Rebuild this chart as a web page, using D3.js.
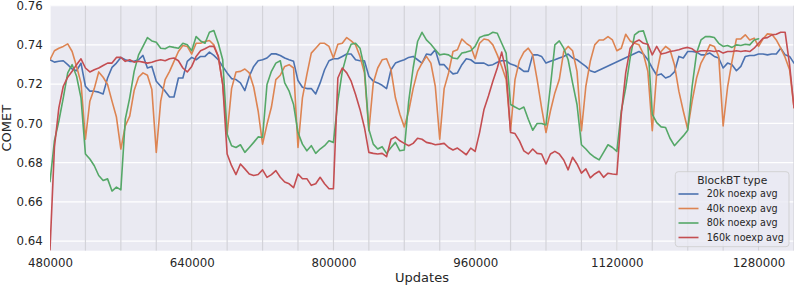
<!DOCTYPE html>
<html>
<head>
<meta charset="utf-8">
<script src="https://cdn.jsdelivr.net/npm/d3@7"></script>
<style>
  body { margin: 0; background: #fff; }
  svg text { font-family: "DejaVu Sans", sans-serif; fill: #262626; }
</style>
</head>
<body>
<div id="chart"></div>
<script>
// Checkpoints: one every 5000 updates
const updates = d3.range(480000, 1320001, 5000);

// COMET per checkpoint, rows of 8 (= 40000 updates)
const comet20k = [
  .7324,.7312,.7316,.7319,.7299,.7277,.7268,.7307,
  .7189,.7164,.7164,.7159,.7150,.7231,.7285,.7307,
  .7336,.7324,.7316,.7316,.7324,.7346,.7282,.7290,
  .7215,.7189,.7164,.7134,.7134,.7231,.7231,.7316,
  .7336,.7324,.7341,.7341,.7363,.7346,.7324,.7290,
  .7257,.7228,.7223,.7206,.7167,.7240,.7290,.7319,
  .7324,.7333,.7354,.7354,.7346,.7333,.7324,.7316,
  .7218,.7184,.7177,.7177,.7150,.7206,.7273,.7319,
  .7329,.7329,.7341,.7353,.7353,.7324,.7319,.7319,
  .7240,.7215,.7206,.7194,.7177,.7273,.7307,.7316,
  .7324,.7336,.7341,.7324,.7307,.7353,.7349,.7375,
  .7299,.7299,.7273,.7252,.7257,.7299,.7329,.7324,
  .7307,.7307,.7307,.7295,.7299,.7311,.7319,.7319,
  .7302,.7295,.7282,.7265,.7265,.7349,.7349,.7341,
  .7307,.7316,.7324,.7333,.7341,.7353,.7333,.7324,
  .7307,.7290,.7268,.7260,null,null,null,null,
  null,null,null,null,null,.7366,.7353,.7324,
  .7282,.7245,.7252,.7231,.7240,.7262,.7341,.7333,
  .7366,.7366,.7363,.7349,.7349,.7358,.7341,.7333,
  .7282,.7307,.7299,.7268,.7290,.7341,.7346,.7346,
  .7353,.7353,.7349,.7353,.7353,.7383,.7349,.7341,
  .7307
];
const comet40k = [
  .7324,.7370,.7383,.7392,.7405,.7366,.7290,.7206,
  .6919,.7113,.7177,.7262,.7235,.7198,.7113,.7032,
  .6869,.6987,.7037,.7167,.7235,.7257,.7245,.7172,
  .6852,.7113,.7223,.7265,.7316,.7366,.7397,.7392,
  .7353,.7408,.7408,.7417,.7422,.7400,.7341,.7198,
  .6945,.7177,.7262,.7265,.7277,.7257,.7184,.7063,
  .6894,.6995,.7083,.7223,.7245,.7290,.7299,.7282,
  .6877,.7130,.7248,.7358,.7383,.7408,.7408,.7392,
  .7333,.7403,.7408,.7437,.7420,.7400,.7341,.7257,
  .6962,.7206,.7282,.7324,.7329,.7273,.7130,.7046,
  .6982,.7063,.7177,.7265,.7307,.7341,.7307,.7189,
  .6919,.7177,.7257,.7366,.7375,.7430,.7408,.7392,
  .7329,.7408,.7430,.7425,.7400,.7349,.7290,.7223,
  .6962,.7223,.7319,.7363,.7383,.7349,.7223,.7080,
  .6953,.7063,.7155,.7223,.7366,.7392,.7370,.7265,
  .6962,.7189,.7316,.7400,.7425,.7425,.7442,.7425,
  .7370,.7383,.7454,.7420,.7408,.7400,.7353,.7265,
  .6962,.7257,.7366,.7392,.7375,.7299,.7164,.7063,
  .6970,.7113,.7231,.7307,.7349,.7400,.7392,.7341,
  .6987,.7184,.7316,.7430,.7430,.7451,.7425,.7434,
  .7392,.7430,.7456,.7454,.7425,.7383,.7336,.7273,
  .7080
];
const comet80k = [
  .6703,.6911,.7012,.7130,.7257,.7299,.7240,.7130,
  .6844,.6818,.6784,.6734,.6709,.6717,.6655,.6675,
  .6661,.7021,.7130,.7265,.7349,.7392,.7437,.7420,
  .7413,.7383,.7380,.7392,.7387,.7383,.7408,.7400,
  .7370,.7442,.7420,.7408,.7464,.7473,.7408,.7324,
  .6945,.6886,.6877,.6891,.6852,.6877,.6903,.6931,
  .6928,.7198,.7265,.7307,.7319,.7206,.7164,.7096,
  .6953,.6894,.6860,.6886,.6847,.6869,.6886,.6911,
  .6903,.7113,.7265,.7349,.7403,.7408,.7383,.7282,
  .6970,.6894,.6869,.6881,.6847,.6877,.6903,.6860,
  .6864,.7113,.7282,.7417,.7464,.7425,.7403,.7375,
  .7349,.7353,.7349,.7333,.7329,.7358,.7363,.7370,
  .7392,.7437,.7447,.7451,.7464,.7459,.7408,.7358,
  .7096,.7083,.7071,.7083,.7021,.6965,.6999,.6999,
  .6992,.7189,.7400,.7420,.7383,.7324,.7206,.7096,
  .6891,.6869,.6844,.6827,.6814,.6852,.6891,.6877,
  .6857,.7063,.7181,.7333,.7451,.7468,.7471,.7400,
  .7046,.7004,.6982,.6979,.6924,.6886,.6911,.6936,
  .6965,.7189,.7358,.7425,.7442,.7442,.7437,.7408,
  .7392,.7397,.7387,.7400,.7397,.7403,.7400,.7425,
  .7431,null,null,null,null,null,null,null,
  null
];
const comet160k = [
  .6355,.6878,.7079,.7189,.7235,.7265,.7299,.7329,
  .7282,.7262,.7273,.7282,.7295,.7307,.7307,.7336,
  .7336,.7316,.7324,.7312,.7316,.7312,.7307,.7311,
  .7319,.7324,.7319,.7329,.7333,.7319,.7282,.7262,
  .7290,.7341,.7370,.7380,.7392,.7392,.7341,.7198,
  .6844,.6784,.6739,.6793,.6768,.6742,.6734,.6739,
  .6763,.6725,.6739,.6759,.6725,.6701,.6692,.6672,
  .6742,.6718,.6718,.6684,.6692,.6725,.6692,.6667,
  .6667,.7231,.7282,.7257,.7215,.7147,.7071,.6979,
  .6852,.6847,.6844,.6847,.6830,.6919,.6931,.6911,
  .6898,.6886,.6898,.6924,.6919,.6903,.6898,.6891,
  .6894,.6898,.6877,.6864,.6874,.6857,.6840,.6874,
  .6857,.6953,.7071,.7139,.7215,.7282,.7363,.7265,
  .6953,.6948,.6911,.6860,.6844,.6869,.6847,.6844,
  .6793,.6844,.6857,.6844,.6813,.6763,.6827,.6793,
  .6746,.6768,.6722,.6742,.6756,.6725,.6746,.6742,
  .6739,.7046,.7257,.7383,.7413,.7425,.7408,.7403,
  .7349,.7392,.7353,.7358,.7366,.7370,.7375,.7383,
  .7387,.7380,.7363,.7370,.7370,.7370,.7366,.7370,
  .7358,.7366,.7366,.7370,.7366,.7370,.7366,.7383,
  .7408,.7434,.7437,.7451,.7454,.7464,.7464,.7299,
  .7080
];

const seriesNames = ['20k noexp avg', '40k noexp avg', '80k noexp avg', '160k noexp avg'];
const seriesValues = [comet20k, comet40k, comet80k, comet160k];
const seriesColors = ['#4c72b0', '#dd8452', '#55a868', '#c44e52'];

const xTicks = [480000, 640000, 800000, 960000, 1120000, 1280000];
const yTicks = [0.64, 0.66, 0.68, 0.70, 0.72, 0.74, 0.76];
// gray markers every 40k updates
const blockMarks = d3.range(520000, 1320001, 40000);

function draw() {
    const dimensions = {
        width: 794,
        height: 286,
        left: 50,
        right: 794,
        top: 5.6,
        bottom: 250.7
    };

    const xScale = d3.scaleLinear()
        .domain([480000, 1320000])
        .range([dimensions.left, dimensions.right]);

    const yScale = d3.scaleLinear()
        .domain([0.6351, 0.76])
        .range([dimensions.bottom, dimensions.top]);

    const svg = d3.select('#chart')
        .append('svg')
        .attr('width', dimensions.width)
        .attr('height', dimensions.height);

    svg.append('clipPath')
        .attr('id', 'plot-clip')
        .append('rect')
        .attr('x', dimensions.left)
        .attr('y', dimensions.top)
        .attr('width', dimensions.right - dimensions.left)
        .attr('height', dimensions.bottom - dimensions.top);

    // Seaborn darkgrid background
    svg.append('rect')
        .attr('x', dimensions.left)
        .attr('y', dimensions.top)
        .attr('width', dimensions.right - dimensions.left)
        .attr('height', dimensions.bottom - dimensions.top)
        .attr('fill', '#eaeaf2');

    const grid = svg.append('g').attr('clip-path', 'url(#plot-clip)');
    grid.selectAll('.hgrid')
        .data(yTicks)
        .join('line')
        .attr('x1', dimensions.left)
        .attr('x2', dimensions.right)
        .attr('y1', d => yScale(d))
        .attr('y2', d => yScale(d))
        .attr('stroke', '#fff')
        .attr('stroke-width', 1.2);
    grid.selectAll('.vgrid')
        .data(xTicks)
        .join('line')
        .attr('x1', d => xScale(d))
        .attr('x2', d => xScale(d))
        .attr('y1', dimensions.top)
        .attr('y2', dimensions.bottom)
        .attr('stroke', '#fff')
        .attr('stroke-width', 1.2);

    grid.selectAll('.block')
        .data(blockMarks)
        .join('line')
        .attr('x1', d => xScale(d))
        .attr('x2', d => xScale(d))
        .attr('y1', dimensions.top)
        .attr('y2', dimensions.bottom)
        .attr('stroke', '#d3d3d9')
        .attr('stroke-width', 1.2);

    // Lines
    const line = d3.line()
        .x(d => xScale(d.x))
        .y(d => yScale(d.y));

    const lines = svg.append('g').attr('clip-path', 'url(#plot-clip)');
    seriesValues.forEach((values, i) => {
        const points = updates
            .map((u, j) => ({ x: u, y: values[j] }))
            .filter(d => d.y != null); // missing checkpoints are bridged, like matplotlib
        lines.append('path')
            .datum(points)
            .attr('fill', 'none')
            .attr('stroke', seriesColors[i])
            .attr('stroke-width', 1.6)
            .attr('stroke-linejoin', 'round')
            .attr('stroke-linecap', 'round')
            .attr('d', line);
    });

    // Axes (no tick marks, as in darkgrid)
    const xAxis = d3.axisBottom(xScale)
        .tickValues(xTicks)
        .tickSize(0)
        .tickPadding(8.4)
        .tickFormat(d3.format('d'));
    const xAxisGroup = svg.append('g')
        .attr('transform', `translate(0, ${dimensions.bottom})`)
        .call(xAxis);
    xAxisGroup.select('.domain').remove();
    xAxisGroup.selectAll('text')
        .attr('fill', '#262626')
        .style('font-size', '11.8px');

    const yAxis = d3.axisLeft(yScale)
        .tickValues(yTicks)
        .tickSize(0)
        .tickPadding(7.3)
        .tickFormat(d3.format('.2f'));
    const yAxisGroup = svg.append('g')
        .attr('transform', `translate(${dimensions.left}, 0)`)
        .call(yAxis);
    yAxisGroup.select('.domain').remove();
    yAxisGroup.selectAll('text')
        .attr('fill', '#262626')
        .style('font-size', '11.8px');

    svg.append('text')
        .attr('x', (dimensions.left + dimensions.right) / 2)
        .attr('y', 282)
        .attr('text-anchor', 'middle')
        .style('font-size', '13px')
        .text('Updates');

    svg.append('text')
        .attr('transform', `translate(10.8, ${(dimensions.top + dimensions.bottom) / 2}) rotate(-90)`)
        .attr('text-anchor', 'middle')
        .style('font-size', '13px')
        .text('COMET');

    // Legend
    const legend = svg.append('g')
        .attr('transform', 'translate(675.3, 171.7)');
    legend.append('rect')
        .attr('width', 113.7)
        .attr('height', 75)
        .attr('rx', 3)
        .attr('fill', '#eaeaf2')
        .attr('fill-opacity', 0.8)
        .attr('stroke', '#cccccc')
        .attr('stroke-width', 0.8);
    legend.append('text')
        .attr('x', 56.9)
        .attr('y', 12)
        .attr('text-anchor', 'middle')
        .style('font-size', '10.7px')
        .text('BlockBT type');
    const entries = legend.selectAll('.entry')
        .data(seriesNames)
        .join('g')
        .attr('transform', (d, i) => `translate(0, ${22.3 + i * 14.5})`);
    entries.append('line')
        .attr('x1', 3.2)
        .attr('x2', 23.2)
        .attr('stroke', (d, i) => seriesColors[i])
        .attr('stroke-width', 1.6);
    entries.append('text')
        .attr('x', 31.4)
        .attr('y', 3.4)
        .style('font-size', '9.6px')
        .text(d => d);
}

draw();
</script>
</body>
</html>
